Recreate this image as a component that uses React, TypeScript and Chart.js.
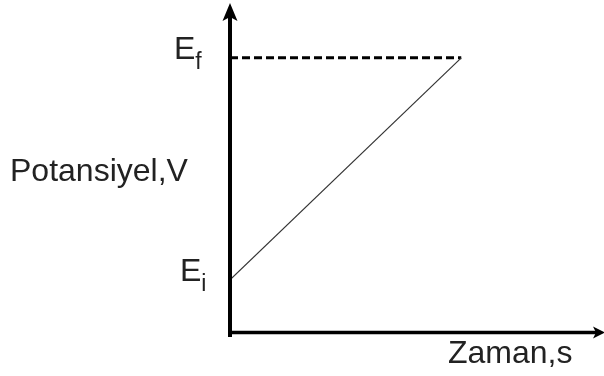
import React, { useEffect, useRef } from "react";
import { Chart, registerables } from "chart.js";

Chart.register(...registerables);

// Linear potential sweep: time (s) against applied potential (V)
const sweepTimes = [0, 5];
const sweepPotentials = [0.95, 5];

// Final potential reference level
const holdTimes = [0, 5];
const holdPotentials = [5, 5];

// Axis extents
const timeRange = [0, 8];
const potentialRange = [0, 6];

// Marked potentials on the vertical axis
const levelValues = [0.95, 5];
const levelSubscripts = ["i", "f"];
const levelOffsets = [180, 174];

const yTitle = "Potansiyel,V";
const xTitle = "Zaman,s";

const FONT = "'Liberation Sans', Arial, Helvetica, sans-serif";
const TEXT = "#222";

const axesPlugin = {
  id: "arrowAxes",
  afterDatasetsDraw(chart: any) {
    const { ctx, chartArea, scales } = chart;
    const left = chartArea.left;
    const bottom = chartArea.bottom;
    ctx.save();
    ctx.fillStyle = "#000";
    ctx.strokeStyle = "#000";
    ctx.lineCap = "butt";

    // vertical axis
    ctx.lineWidth = 4;
    ctx.beginPath();
    ctx.moveTo(left, bottom + 5);
    ctx.lineTo(left, 17);
    ctx.stroke();
    ctx.beginPath();
    ctx.moveTo(left, 3);
    ctx.lineTo(left + 7.5, 21);
    ctx.lineTo(left, 17);
    ctx.lineTo(left - 7.5, 21);
    ctx.closePath();
    ctx.fill();

    // horizontal axis
    ctx.lineWidth = 3.5;
    ctx.beginPath();
    ctx.moveTo(left - 2, bottom + 0.5);
    ctx.lineTo(596, bottom + 0.5);
    ctx.stroke();
    ctx.beginPath();
    ctx.moveTo(605, bottom + 0.5);
    ctx.lineTo(593, bottom - 5.5);
    ctx.lineTo(596, bottom + 0.5);
    ctx.lineTo(593, bottom + 6.5);
    ctx.closePath();
    ctx.fill();

    // potential level labels
    ctx.fillStyle = TEXT;
    ctx.textBaseline = "alphabetic";
    ctx.textAlign = "left";
    levelValues.forEach((v, i) => {
      const y = scales.y.getPixelForValue(v) + 1;
      const x = levelOffsets[i];
      ctx.font = `32px ${FONT}`;
      ctx.fillText("E", x, y);
      const w = ctx.measureText("E").width;
      ctx.font = `23px ${FONT}`;
      ctx.fillText(levelSubscripts[i], x + w, y + 10);
    });

    // axis titles
    ctx.font = `32px ${FONT}`;
    ctx.fillText(yTitle, 10, 181);
    ctx.fillText(xTitle, 448, 363);
    ctx.restore();
  },
};

export default function App() {
  const canvasRef = useRef<HTMLCanvasElement | null>(null);

  useEffect(() => {
    const canvas = canvasRef.current;
    if (!canvas) return;
    const chart = new Chart(canvas, {
      type: "line",
      data: {
        datasets: [
          {
            data: sweepTimes.map((t, i) => ({ x: t, y: sweepPotentials[i] })),
            borderColor: "#333",
            borderWidth: 1.2,
            pointRadius: 0,
            tension: 0,
          },
          {
            data: holdTimes.map((t, i) => ({ x: t, y: holdPotentials[i] })),
            borderColor: "#000",
            borderWidth: 3,
            borderDash: [8, 4],
            pointRadius: 0,
            tension: 0,
          },
        ],
      },
      options: {
        animation: false,
        responsive: false,
        devicePixelRatio: 1,
        layout: { padding: { left: 230, right: 4, top: 3, bottom: 44 } },
        plugins: {
          legend: { display: false },
          tooltip: { enabled: false },
          title: { display: false },
        },
        scales: {
          x: { type: "linear", min: timeRange[0], max: timeRange[1], display: false },
          y: { type: "linear", min: potentialRange[0], max: potentialRange[1], display: false },
        },
      },
      plugins: [axesPlugin],
    });
    return () => chart.destroy();
  }, []);

  return (
    <div style={{ position: "fixed", left: 0, top: 0, width: 604, height: 376, background: "#fff" }}>
      <canvas ref={canvasRef} width={604} height={376} style={{ display: "block" }} />
    </div>
  );
}
